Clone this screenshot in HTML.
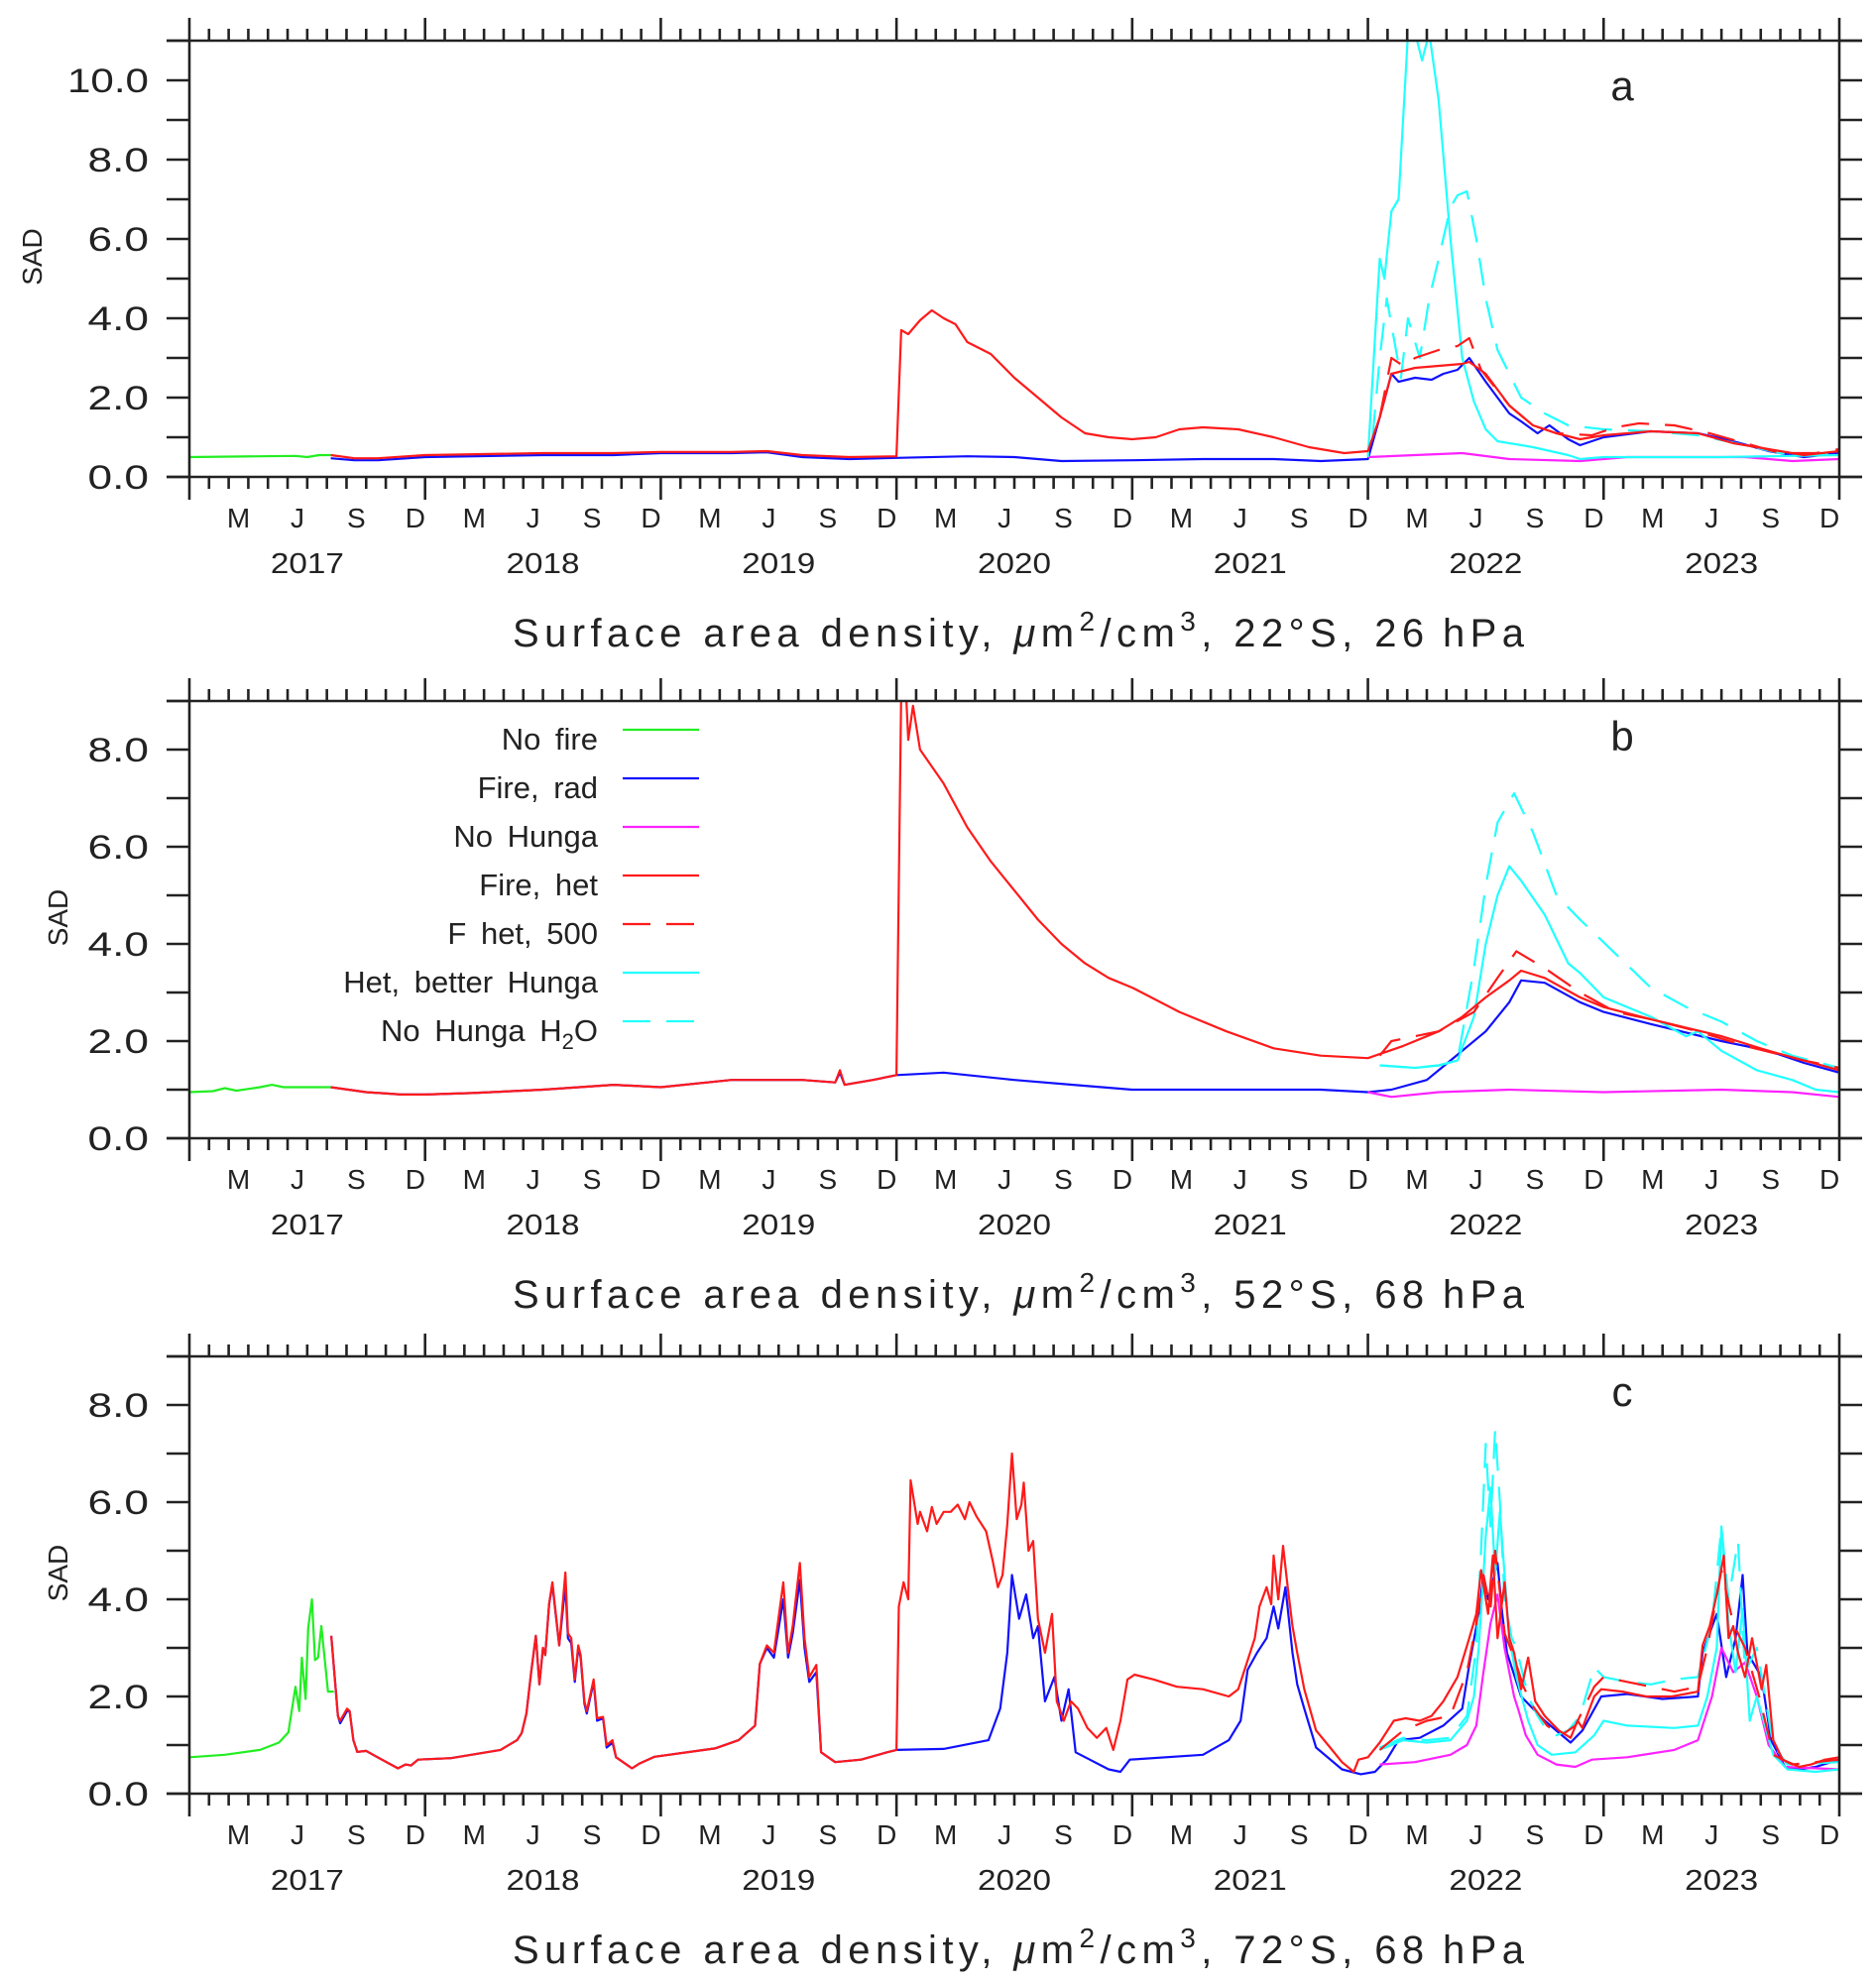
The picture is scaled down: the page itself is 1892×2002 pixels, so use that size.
<!DOCTYPE html>
<html><head><meta charset="utf-8"><style>
html,body{margin:0;padding:0;background:#fff;}
svg{display:block;font-family:"Liberation Sans","DejaVu Sans",sans-serif;}
</style></head><body>
<svg id="chart" width="1892" height="2002" viewBox="0 0 1892 2002" xmlns="http://www.w3.org/2000/svg"></svg>
<script>
// ---------- data ----------
const yearLabels = ["2017","2018","2019","2020","2021","2022","2023"];
const monthLabels = ["M","J","S","D"];
const panelLetters = ["a","b","c"];
const panelTitles = ["22°S, 26\u2009hPa","52°S, 68\u2009hPa","72°S, 68\u2009hPa"];
const yMaxes = [11, 9, 9];
const yTickLabelsA = ["0.0","2.0","4.0","6.0","8.0","10.0"];
const yTickLabelsBC = ["0.0","2.0","4.0","6.0","8.0"];
const legendNames = ["No fire","Fire, rad","No Hunga","Fire, het","F het, 500","Het, better Hunga","No Hunga H2O"];

// panel a
const aGreen = [[2017.0,0.5],[2017.3,0.52],[2017.45,0.53],[2017.5,0.5],[2017.55,0.55],[2017.6,0.55]];
const aBlue = [[2017.6,0.47],[2017.7,0.42],[2017.8,0.42],[2018.0,0.5],[2018.5,0.55],[2018.8,0.55],[2019.0,0.6],[2019.3,0.6],[2019.45,0.62],[2019.6,0.5],[2019.8,0.45],[2020.0,0.48],[2020.3,0.52],[2020.5,0.5],[2020.7,0.4],[2021.0,0.42],[2021.3,0.45],[2021.6,0.45],[2021.8,0.4],[2022.0,0.45],[2022.05,1.5],[2022.1,2.6],[2022.13,2.4],[2022.2,2.5],[2022.27,2.45],[2022.32,2.6],[2022.38,2.7],[2022.43,3.0],[2022.5,2.4],[2022.55,2.0],[2022.6,1.6],[2022.65,1.4],[2022.72,1.1],[2022.77,1.3],[2022.85,0.95],[2022.9,0.8],[2023.0,1.0],[2023.2,1.15],[2023.4,1.1],[2023.55,0.9],[2023.7,0.65],[2023.85,0.5],[2024.0,0.6]];
const aMagenta = [[2022.0,0.5],[2022.4,0.6],[2022.6,0.45],[2022.9,0.4],[2023.1,0.5],[2023.6,0.5],[2023.8,0.4],[2024.0,0.45]];
const aRed = [[2017.6,0.55],[2017.7,0.47],[2017.8,0.47],[2018.0,0.55],[2018.5,0.6],[2018.8,0.6],[2019.0,0.63],[2019.3,0.63],[2019.45,0.65],[2019.6,0.55],[2019.8,0.5],[2020.0,0.52],[2020.02,3.7],[2020.05,3.6],[2020.1,3.95],[2020.15,4.2],[2020.2,4.0],[2020.25,3.85],[2020.3,3.4],[2020.4,3.1],[2020.5,2.5],[2020.6,2.0],[2020.7,1.5],[2020.8,1.1],[2020.9,1.0],[2021.0,0.95],[2021.1,1.0],[2021.2,1.2],[2021.3,1.25],[2021.45,1.2],[2021.6,1.0],[2021.75,0.75],[2021.9,0.6],[2022.0,0.65],[2022.05,1.5],[2022.1,2.6],[2022.2,2.75],[2022.3,2.8],[2022.4,2.85],[2022.43,2.9],[2022.5,2.6],[2022.6,1.8],[2022.7,1.3],[2022.8,1.1],[2022.9,0.95],[2023.0,1.05],[2023.2,1.15],[2023.4,1.1],[2023.55,0.85],[2023.7,0.7],[2023.85,0.55],[2024.0,0.65]];
const aRedDash = [[2022.05,1.5],[2022.1,3.0],[2022.15,2.8],[2022.2,3.0],[2022.3,3.2],[2022.38,3.3],[2022.43,3.5],[2022.48,2.7],[2022.6,1.8],[2022.7,1.3],[2022.8,1.1],[2022.95,1.05],[2023.05,1.25],[2023.15,1.35],[2023.3,1.3],[2023.45,1.1],[2023.6,0.85],[2023.75,0.6],[2023.9,0.6],[2024.0,0.7]];
const aCyan = [[2022.0,0.5],[2022.03,3.5],[2022.05,5.5],[2022.07,5.0],[2022.1,6.7],[2022.13,7.0],[2022.17,11.2],[2022.2,11.2],[2022.23,10.5],[2022.26,11.2],[2022.3,9.5],[2022.35,6.0],[2022.4,3.0],[2022.45,1.9],[2022.5,1.2],[2022.55,0.9],[2022.7,0.75],[2022.85,0.55],[2022.9,0.45],[2023.0,0.5],[2023.5,0.5],[2024.0,0.55]];
const aCyanDash = [[2022.02,1.0],[2022.05,3.0],[2022.08,4.5],[2022.11,3.5],[2022.14,2.5],[2022.17,4.0],[2022.22,3.0],[2022.26,4.5],[2022.3,5.5],[2022.35,6.8],[2022.38,7.1],[2022.42,7.2],[2022.46,6.0],[2022.5,4.5],[2022.55,3.2],[2022.6,2.6],[2022.65,2.0],[2022.75,1.6],[2022.85,1.3],[2023.0,1.2],[2023.2,1.15],[2023.4,1.05],[2023.6,0.8],[2023.75,0.6],[2024.0,0.55]];

// panel b
const bGreen = [[2017.0,0.95],[2017.1,0.97],[2017.15,1.03],[2017.2,0.98],[2017.3,1.05],[2017.35,1.1],[2017.4,1.05],[2017.5,1.05],[2017.6,1.05]];
const bBlue = [[2017.6,1.05],[2017.75,0.95],[2017.9,0.9],[2018.0,0.9],[2018.2,0.93],[2018.5,1.0],[2018.8,1.1],[2019.0,1.05],[2019.3,1.2],[2019.6,1.2],[2019.74,1.15],[2019.76,1.35],[2019.78,1.1],[2019.9,1.2],[2020.0,1.3],[2020.2,1.35],[2020.5,1.2],[2020.75,1.1],[2021.0,1.0],[2021.5,1.0],[2021.8,1.0],[2022.0,0.95],[2022.1,1.0],[2022.25,1.2],[2022.35,1.6],[2022.5,2.2],[2022.6,2.8],[2022.65,3.25],[2022.75,3.2],[2022.9,2.8],[2023.0,2.6],[2023.2,2.35],[2023.5,2.0],[2023.7,1.8],[2023.85,1.55],[2024.0,1.35]];
const bMagenta = [[2022.0,0.95],[2022.1,0.85],[2022.3,0.95],[2022.6,1.0],[2023.0,0.95],[2023.5,1.0],[2023.8,0.95],[2024.0,0.85]];
const bRed = [[2017.6,1.05],[2017.75,0.95],[2017.9,0.9],[2018.0,0.9],[2018.2,0.93],[2018.5,1.0],[2018.8,1.1],[2019.0,1.05],[2019.3,1.2],[2019.6,1.2],[2019.74,1.15],[2019.76,1.4],[2019.78,1.1],[2019.9,1.2],[2020.0,1.3],[2020.02,9.2],[2020.04,9.2],[2020.05,8.2],[2020.07,8.9],[2020.1,8.0],[2020.2,7.3],[2020.3,6.4],[2020.4,5.7],[2020.5,5.1],[2020.6,4.5],[2020.7,4.0],[2020.8,3.6],[2020.9,3.3],[2021.0,3.1],[2021.2,2.6],[2021.4,2.2],[2021.6,1.85],[2021.8,1.7],[2022.0,1.65],[2022.15,1.9],[2022.3,2.2],[2022.4,2.5],[2022.5,2.9],[2022.6,3.25],[2022.65,3.45],[2022.75,3.3],[2022.9,2.9],[2023.0,2.7],[2023.2,2.45],[2023.5,2.1],[2023.7,1.8],[2023.85,1.6],[2024.0,1.4]];
const bRedDash = [[2022.05,1.7],[2022.1,2.0],[2022.3,2.2],[2022.45,2.6],[2022.55,3.3],[2022.63,3.85],[2022.75,3.5],[2022.9,3.0],[2023.05,2.6],[2023.2,2.45],[2023.4,2.2],[2023.6,1.9],[2023.85,1.6],[2024.0,1.45]];
const bCyan = [[2022.05,1.5],[2022.2,1.45],[2022.3,1.5],[2022.38,1.6],[2022.45,2.5],[2022.5,4.0],[2022.55,5.0],[2022.6,5.6],[2022.65,5.3],[2022.75,4.6],[2022.85,3.6],[2022.9,3.4],[2023.0,2.9],[2023.2,2.5],[2023.35,2.1],[2023.4,2.2],[2023.5,1.8],[2023.65,1.4],[2023.8,1.2],[2023.9,1.0],[2024.0,0.95]];
const bCyanDash = [[2022.05,1.5],[2022.2,1.45],[2022.3,1.5],[2022.38,1.6],[2022.45,3.5],[2022.5,5.2],[2022.55,6.5],[2022.62,7.1],[2022.7,6.3],[2022.8,5.0],[2022.9,4.5],[2023.05,3.8],[2023.2,3.1],[2023.35,2.7],[2023.5,2.4],[2023.65,2.0],[2023.8,1.7],[2024.0,1.45]];

// panel c
const cGreen = [[2017.0,0.75],[2017.15,0.8],[2017.3,0.9],[2017.38,1.05],[2017.42,1.26],[2017.45,2.2],[2017.466,1.7],[2017.477,2.8],[2017.493,1.95],[2017.504,3.4],[2017.52,4.0],[2017.533,2.75],[2017.546,2.8],[2017.56,3.45],[2017.588,2.1],[2017.613,2.1]];
const cBlue = [[2017.602,3.25],[2017.63,1.6],[2017.64,1.45],[2017.669,1.7],[2017.68,1.7],[2017.696,1.1],[2017.712,0.86],[2017.75,0.88],[2017.805,0.73],[2017.885,0.52],[2017.917,0.6],[2017.94,0.58],[2017.97,0.7],[2018.11,0.73],[2018.32,0.9],[2018.39,1.1],[2018.41,1.25],[2018.43,1.65],[2018.45,2.5],[2018.47,3.25],[2018.485,2.25],[2018.50,3.0],[2018.51,2.85],[2018.526,3.9],[2018.54,4.3],[2018.569,3.05],[2018.595,4.3],[2018.606,3.2],[2018.62,3.1],[2018.635,2.3],[2018.65,3.0],[2018.66,2.8],[2018.676,1.85],[2018.686,1.65],[2018.715,2.3],[2018.73,1.5],[2018.755,1.55],[2018.77,0.95],[2018.795,1.05],[2018.81,0.75],[2018.878,0.52],[2018.91,0.62],[2018.974,0.76],[2019.23,0.93],[2019.33,1.1],[2019.4,1.4],[2019.42,2.67],[2019.45,3.0],[2019.48,2.8],[2019.52,4.0],[2019.54,2.8],[2019.56,3.3],[2019.59,4.4],[2019.61,3.0],[2019.63,2.3],[2019.66,2.5],[2019.68,0.85],[2019.74,0.65],[2019.85,0.7],[2019.96,0.85],[2020.0,0.9],[2020.2,0.92],[2020.39,1.1],[2020.44,1.75],[2020.47,2.9],[2020.49,4.5],[2020.52,3.6],[2020.55,4.1],[2020.58,3.2],[2020.6,3.45],[2020.63,1.9],[2020.67,2.4],[2020.70,1.5],[2020.73,2.15],[2020.76,0.85],[2020.82,0.7],[2020.9,0.5],[2020.95,0.45],[2020.99,0.7],[2021.3,0.8],[2021.41,1.1],[2021.46,1.5],[2021.49,2.55],[2021.53,2.9],[2021.57,3.2],[2021.60,3.85],[2021.62,3.4],[2021.65,4.25],[2021.68,2.9],[2021.70,2.25],[2021.73,1.75],[2021.78,0.95],[2021.89,0.5],[2021.97,0.4],[2022.03,0.45],[2022.08,0.7],[2022.13,1.1],[2022.22,1.15],[2022.32,1.4],[2022.40,1.75],[2022.43,2.65],[2022.47,3.7],[2022.49,4.5],[2022.51,4.0],[2022.55,4.75],[2022.57,3.7],[2022.59,2.9],[2022.65,2.0],[2022.75,1.5],[2022.86,1.05],[2022.91,1.3],[2022.99,2.0],[2023.1,2.05],[2023.25,1.95],[2023.40,2.0],[2023.42,2.9],[2023.48,3.7],[2023.52,2.4],[2023.56,3.2],[2023.59,4.5],[2023.61,2.9],[2023.67,2.4],[2023.71,1.1],[2023.77,0.55],[2023.83,0.5],[2023.9,0.55],[2024.0,0.7]];
const cMagenta = [[2022.05,0.6],[2022.2,0.65],[2022.35,0.8],[2022.42,1.0],[2022.46,1.4],[2022.49,2.5],[2022.52,3.5],[2022.55,4.1],[2022.58,3.0],[2022.62,2.0],[2022.64,1.7],[2022.67,1.2],[2022.72,0.8],[2022.8,0.6],[2022.88,0.55],[2022.95,0.7],[2023.1,0.75],[2023.3,0.9],[2023.4,1.1],[2023.46,2.0],[2023.5,3.0],[2023.55,2.5],[2023.6,2.7],[2023.65,2.0],[2023.7,1.0],[2023.77,0.55],[2024.0,0.5]];
const cRed = [[2017.602,3.25],[2017.63,1.6],[2017.64,1.5],[2017.669,1.75],[2017.68,1.7],[2017.696,1.1],[2017.712,0.86],[2017.75,0.88],[2017.805,0.73],[2017.885,0.52],[2017.917,0.6],[2017.94,0.58],[2017.97,0.7],[2018.11,0.73],[2018.32,0.9],[2018.39,1.1],[2018.41,1.25],[2018.43,1.65],[2018.45,2.5],[2018.47,3.25],[2018.485,2.25],[2018.50,3.0],[2018.51,2.85],[2018.526,3.9],[2018.54,4.35],[2018.569,3.05],[2018.595,4.55],[2018.606,3.3],[2018.62,3.2],[2018.635,2.35],[2018.65,3.05],[2018.66,2.85],[2018.676,1.9],[2018.686,1.7],[2018.715,2.35],[2018.73,1.55],[2018.755,1.58],[2018.77,1.0],[2018.795,1.1],[2018.81,0.75],[2018.878,0.52],[2018.91,0.62],[2018.974,0.76],[2019.23,0.93],[2019.33,1.1],[2019.4,1.4],[2019.42,2.67],[2019.45,3.05],[2019.48,2.9],[2019.52,4.35],[2019.54,2.9],[2019.56,3.45],[2019.59,4.75],[2019.61,3.2],[2019.63,2.4],[2019.66,2.65],[2019.68,0.85],[2019.74,0.65],[2019.85,0.7],[2019.96,0.85],[2020.0,0.9],[2020.01,3.85],[2020.03,4.35],[2020.05,4.0],[2020.06,6.45],[2020.09,5.55],[2020.1,5.8],[2020.13,5.4],[2020.15,5.9],[2020.17,5.55],[2020.2,5.8],[2020.23,5.8],[2020.26,5.95],[2020.29,5.65],[2020.31,6.0],[2020.34,5.7],[2020.38,5.4],[2020.41,4.75],[2020.43,4.25],[2020.45,4.5],[2020.47,5.55],[2020.49,7.0],[2020.51,5.65],[2020.53,5.95],[2020.54,6.4],[2020.56,5.0],[2020.58,5.2],[2020.6,3.6],[2020.63,2.9],[2020.66,3.7],[2020.68,1.9],[2020.71,1.5],[2020.74,1.9],[2020.77,1.75],[2020.81,1.35],[2020.85,1.15],[2020.89,1.35],[2020.92,0.9],[2020.95,1.5],[2020.98,2.35],[2021.01,2.45],[2021.09,2.35],[2021.19,2.2],[2021.30,2.15],[2021.41,2.0],[2021.45,2.15],[2021.48,2.6],[2021.52,3.2],[2021.54,3.85],[2021.57,4.25],[2021.59,3.9],[2021.6,4.9],[2021.62,4.0],[2021.64,5.1],[2021.66,4.25],[2021.68,3.45],[2021.70,2.9],[2021.73,2.15],[2021.78,1.3],[2021.84,0.95],[2021.89,0.65],[2021.94,0.45],[2021.96,0.7],[2022.0,0.75],[2022.05,1.05],[2022.11,1.5],[2022.16,1.55],[2022.22,1.5],[2022.27,1.6],[2022.32,1.9],[2022.38,2.4],[2022.43,3.2],[2022.46,3.7],[2022.48,4.6],[2022.51,3.7],[2022.53,4.9],[2022.55,3.2],[2022.58,4.35],[2022.60,3.2],[2022.62,2.9],[2022.65,2.15],[2022.68,2.8],[2022.71,1.9],[2022.75,1.6],[2022.81,1.3],[2022.86,1.15],[2022.89,1.5],[2022.91,1.35],[2022.96,2.0],[2022.99,2.15],[2023.08,2.1],[2023.18,2.0],[2023.29,2.0],[2023.40,2.1],[2023.42,3.05],[2023.45,3.45],[2023.48,4.1],[2023.51,4.9],[2023.53,3.2],[2023.55,3.45],[2023.57,2.9],[2023.60,2.4],[2023.63,3.2],[2023.67,2.15],[2023.69,2.65],[2023.72,1.1],[2023.76,0.7],[2023.83,0.55],[2023.88,0.6],[2023.94,0.7],[2024.0,0.75]];
const cRedDash = [[2022.05,0.9],[2022.15,1.3],[2022.25,1.5],[2022.35,1.6],[2022.42,2.5],[2022.46,3.5],[2022.49,4.5],[2022.52,3.8],[2022.54,5.0],[2022.58,3.3],[2022.62,2.8],[2022.66,2.2],[2022.7,1.8],[2022.76,1.4],[2022.82,1.2],[2022.88,1.4],[2022.96,2.2],[2023.0,2.4],[2023.1,2.3],[2023.3,2.1],[2023.4,2.2],[2023.44,3.0],[2023.5,4.6],[2023.55,3.5],[2023.6,3.0],[2023.66,2.0],[2023.72,0.8],[2023.8,0.6],[2024.0,0.7]];
const cCyan = [[2022.05,0.9],[2022.15,1.1],[2022.25,1.05],[2022.35,1.1],[2022.42,1.5],[2022.45,2.0],[2022.47,3.0],[2022.49,4.5],[2022.5,5.3],[2022.52,6.3],[2022.54,4.5],[2022.56,5.8],[2022.6,3.2],[2022.63,2.4],[2022.68,1.5],[2022.72,1.0],[2022.78,0.8],[2022.88,0.85],[2022.96,1.2],[2023.0,1.5],[2023.1,1.4],[2023.3,1.35],[2023.4,1.4],[2023.44,2.0],[2023.48,3.0],[2023.5,5.5],[2023.53,3.5],[2023.56,2.5],[2023.59,3.8],[2023.62,1.5],[2023.65,2.0],[2023.72,0.8],[2023.78,0.5],[2023.9,0.45],[2024.0,0.5]];
const cCyanDash = [[2022.05,0.95],[2022.15,1.15],[2022.25,1.1],[2022.35,1.15],[2022.42,1.6],[2022.46,3.0],[2022.48,5.0],[2022.5,7.2],[2022.52,5.5],[2022.54,7.5],[2022.56,6.0],[2022.58,4.0],[2022.61,3.2],[2022.63,3.0],[2022.66,2.4],[2022.68,2.0],[2022.72,1.6],[2022.76,1.3],[2022.8,1.2],[2022.85,1.3],[2022.9,1.6],[2022.96,2.6],[2023.0,2.4],[2023.1,2.3],[2023.2,2.25],[2023.3,2.35],[2023.4,2.4],[2023.46,3.5],[2023.5,5.5],[2023.53,4.0],[2023.57,5.2],[2023.6,2.5],[2023.65,3.0],[2023.72,1.0],[2023.78,0.6],[2024.0,0.65]];

// ---------- drawing ----------
const NS = "http://www.w3.org/2000/svg";
const svg = document.getElementById("chart");
const X0 = 191, X1 = 1855, T0 = 2017, T1 = 2024;
const panels = [
  {top:41, bottom:481, series:[[aGreen,"#22ee22",0,"no-fire"],[aBlue,"#1010ff",0,"fire-rad"],[aMagenta,"#ff22ff",0,"no-hunga"],[aCyan,"#22ffff",0,"het-better-hunga"],[aCyanDash,"#22ffff",1,"no-hunga-h2o"],[aRed,"#ff1a1a",0,"fire-het"],[aRedDash,"#ff1a1a",1,"f-het-500"]], ticks:yTickLabelsA},
  {top:707, bottom:1148, series:[[bGreen,"#22ee22",0,"no-fire"],[bBlue,"#1010ff",0,"fire-rad"],[bMagenta,"#ff22ff",0,"no-hunga"],[bCyan,"#22ffff",0,"het-better-hunga"],[bCyanDash,"#22ffff",1,"no-hunga-h2o"],[bRed,"#ff1a1a",0,"fire-het"],[bRedDash,"#ff1a1a",1,"f-het-500"]], ticks:yTickLabelsBC},
  {top:1368, bottom:1809, series:[[cGreen,"#22ee22",0,"no-fire"],[cBlue,"#1010ff",0,"fire-rad"],[cMagenta,"#ff22ff",0,"no-hunga"],[cCyan,"#22ffff",0,"het-better-hunga"],[cCyanDash,"#22ffff",1,"no-hunga-h2o"],[cRed,"#ff1a1a",0,"fire-het"],[cRedDash,"#ff1a1a",1,"f-het-500"]], ticks:yTickLabelsBC}
];
function xs(t){ return X0 + (t - T0) / (T1 - T0) * (X1 - X0); }
function mk(tag, attrs, parent){ const e = document.createElementNS(NS, tag); for (const k in attrs) e.setAttribute(k, attrs[k]); (parent||svg).appendChild(e); return e; }

const defs = mk("defs", {});
panels.forEach((p, pi) => {
  const ymax = yMaxes[pi];
  const ys = v => p.bottom - v / ymax * (p.bottom - p.top);
  const g = mk("g", {});
  
  
  const cp = mk("clipPath", {id:"clip"+pi}, defs);
  mk("rect", {x:X0, y:p.top, width:X1-X0, height:p.bottom-p.top}, cp);

  const sg = mk("g", {"clip-path":"url(#clip"+pi+")"}, g);
  p.series.forEach(s => {
    const d = s[0].map((pt, i) => (i ? "L" : "M") + xs(pt[0]).toFixed(1) + " " + ys(pt[1]).toFixed(1)).join(" ");
    const path = mk("path", {d:d, fill:"none", stroke:s[1], "stroke-width":2.2, "stroke-linejoin":"round"}, sg);
    if (s[2]) path.setAttribute("stroke-dasharray", "28 16");
    
    
  });

  const ax = mk("g", {stroke:"#222", "stroke-width":2.6, fill:"none"}, g);
  
  
  mk("line", {x1:168, x2:X1+23, y1:p.bottom, y2:p.bottom}, ax);
  mk("line", {x1:168, x2:X1+23, y1:p.top, y2:p.top}, ax);
  mk("line", {x1:X0, x2:X0, y1:p.top-23, y2:p.bottom+23}, ax);
  mk("line", {x1:X1, x2:X1, y1:p.top-23, y2:p.bottom+23}, ax);
  for (let y = 2017; y < 2024; y++) {
    for (let m = 0; m < 12; m++) {
      const t = y + m / 12, x = xs(t);
      const L = m === 0 ? 23 : 12;
      if (m === 0 && y === 2017) continue;
      mk("line", {x1:x, x2:x, y1:p.bottom, y2:p.bottom+L}, ax);
      mk("line", {x1:x, x2:x, y1:p.top, y2:p.top-L}, ax);
    }
  }
  for (let v = 0; v <= ymax; v++) {
    const y = ys(v);
    mk("line", {x1:168, x2:X0, y1:y, y2:y}, ax);
    mk("line", {x1:X1, x2:X1+23, y1:y, y2:y}, ax);
  }
  p.ticks.forEach((lab, i) => {
    const tx = mk("text", {x:150, y:ys(i*2)+12, "font-size":34, "text-anchor":"end", fill:"#222", textLength: lab.length*20.5, lengthAdjust:"spacingAndGlyphs"}, g);
    tx.textContent = lab;
    
    
  });
  const yc = (p.top + p.bottom) / 2 - 2;
  const ytx = pi === 0 ? 32 : 58;
  const yt = mk("text", {x:ytx, y:yc, "font-size":28, "text-anchor":"middle", fill:"#222", transform:"rotate(-90 "+ytx+" "+yc+") translate(0 10)"}, g);
  yt.textContent = "SAD";
  
  
  for (let y = 2017; y < 2024; y++) {
    monthLabels.forEach((ml, k) => {
      const t = y + (2 + 3*k + 0.5) / 12;
      const tx = mk("text", {x:xs(t), y:p.bottom+51, "font-size":28, "text-anchor":"middle", fill:"#222"}, g);
      tx.textContent = ml;
      
      
    });
  }
  yearLabels.forEach((yl, k) => {
    const tx = mk("text", {x:xs(2017 + k + 0.5), y:p.bottom+97, "font-size":29, "text-anchor":"middle", fill:"#222", textLength:74, lengthAdjust:"spacingAndGlyphs"}, g);
    tx.textContent = yl;
    
    
  });
  const tt = mk("text", {x:517, y:p.bottom+171, "font-size":40, fill:"#222", textLength:1020, lengthAdjust:"spacing"}, g);
  
  
  const t1 = mk("tspan", {}, tt); t1.textContent = "Surface area density, ";
  const t2 = mk("tspan", {"font-style":"italic"}, tt); t2.textContent = "\u03bc";
  const t3 = mk("tspan", {}, tt); t3.textContent = "m";
  const t4 = mk("tspan", {dy:-16, "font-size":28}, tt); t4.textContent = "2";
  const t5 = mk("tspan", {dy:16}, tt); t5.textContent = "/cm";
  const t6 = mk("tspan", {dy:-16, "font-size":28}, tt); t6.textContent = "3";
  const t7 = mk("tspan", {dy:16}, tt); t7.textContent = ", " + panelTitles[pi];
  const pl = mk("text", {x:1636, y:p.top + (pi===0?60:50), "font-size":42, "text-anchor":"middle", fill:"#222"}, g);
  pl.textContent = panelLetters[pi];
  
  
});

const legColors = ["#22ee22","#1010ff","#ff22ff","#ff1a1a","#ff1a1a","#22ffff","#22ffff"];
const legDash = [0,0,0,0,1,0,1];
const lg = mk("g", {});


legendNames.forEach((nm, i) => {
  const cy = 745 + i * 49;
  const tx = mk("text", {x:603, y:cy+11, "font-size":31, "text-anchor":"end", fill:"#222", "word-spacing":"6"}, lg);
  if (nm === "No Hunga H2O") {
    tx.textContent = "No Hunga H";
    const s = mk("tspan", {dy:8, "font-size":22}, tx); s.textContent = "2";
    const o = mk("tspan", {dy:-8}, tx); o.textContent = "O";
  } else tx.textContent = nm;
  
  
  const ln = mk("line", {x1:628, x2:705, y1:cy-9, y2:cy-9, stroke:legColors[i], "stroke-width":2.2}, lg);
  if (legDash[i]) ln.setAttribute("stroke-dasharray", "28 16");
  
  
});
</script>
</body></html>
